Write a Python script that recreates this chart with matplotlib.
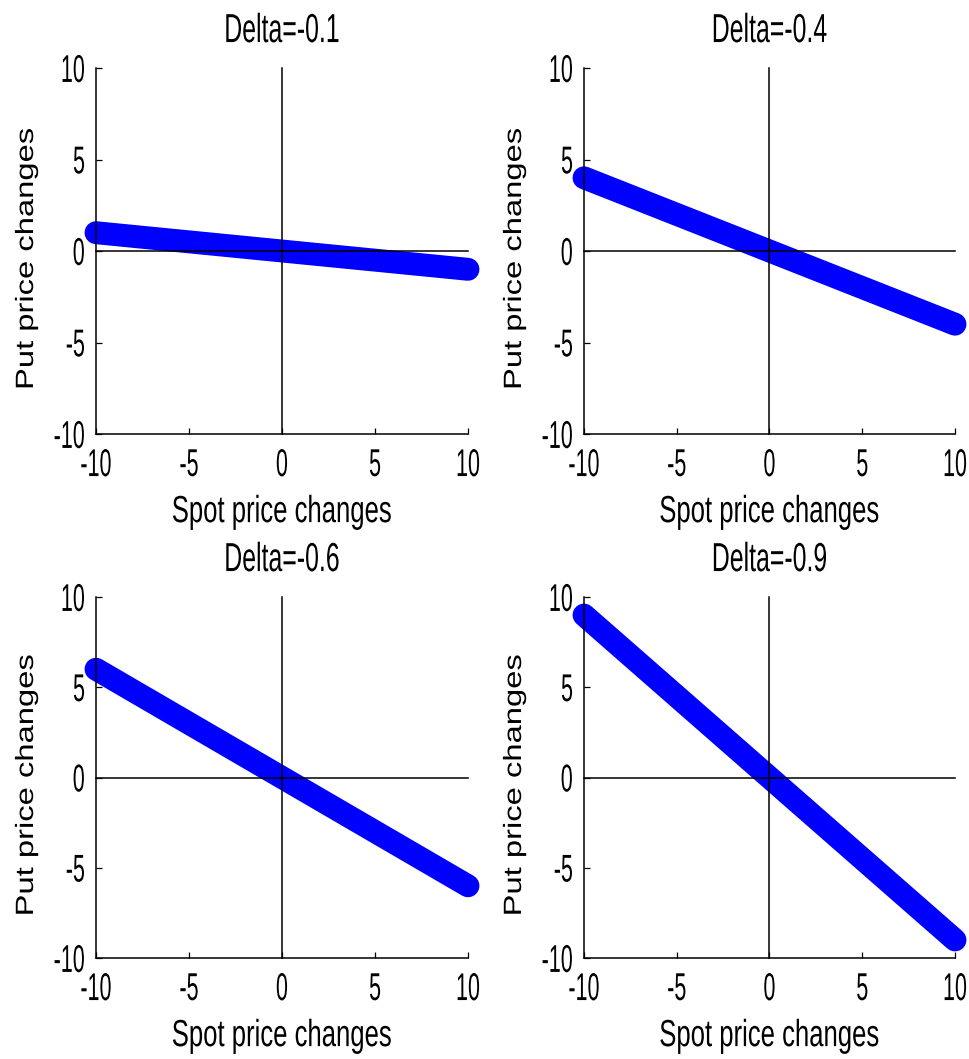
import matplotlib
matplotlib.use("Agg")
import matplotlib.pyplot as plt
import numpy as np
from matplotlib.patheffects import AbstractPathEffect
from matplotlib.transforms import Affine2D

# Option deltas shown in each panel and the range of spot price changes
deltas = [-0.1, -0.4, -0.6, -0.9]
titles = ["Delta=-0.1", "Delta=-0.4", "Delta=-0.6", "Delta=-0.9"]
spot = np.array([-10.0, 10.0])
ticks = [-10, -5, 0, 5, 10]
tick_labels = ["-10", "-5", "0", "5", "10"]
xlabel = "Spot price changes"
ylabel = "Put price changes"


class Stretch(AbstractPathEffect):
    """Scale glyph outlines about their own centre (tall, narrow lettering)."""

    def __init__(self, sx=1.0, sy=1.0):
        super().__init__()
        self.sx, self.sy = sx, sy

    def draw_path(self, renderer, gc, tpath, affine, rgbFace=None):
        v = tpath.vertices
        if len(v):
            cx = 0.5 * (v[:, 0].min() + v[:, 0].max())
            cy = 0.5 * (v[:, 1].min() + v[:, 1].max())
        else:
            cx = cy = 0.0
        pre = (Affine2D().translate(-cx, -cy).scale(self.sx, self.sy)
               .translate(cx, cy))
        renderer.draw_path(gc, tpath, pre + affine, rgbFace)


FONT = ["Liberation Sans", "DejaVu Sans"]

W, H = 970, 1059
fig = plt.figure(figsize=(W / 100, H / 100), dpi=100)
fig.patch.set_facecolor("white")

# axes boxes in pixels: left, top, right, bottom
boxes = [(96, 68, 468, 434), (584, 68, 955, 434),
         (96, 597, 468, 958), (584, 597, 955, 958)]

for d, title, (l, t, r, b) in zip(deltas, titles, boxes):
    ax = fig.add_axes([l / W, 1 - b / H, (r - l) / W, (b - t) / H])
    hpx = b - t
    put = d * spot
    ax.plot(spot, put, color="#0000ff", lw=16.5, solid_capstyle="round",
            clip_on=False, zorder=2)
    # reference axes through the origin
    ax.plot([0, 0], [-10, 10], color="black", lw=1.1, zorder=3, clip_on=False)
    ax.plot([-10, 10], [0, 0], color="black", lw=1.1, zorder=3, clip_on=False)

    ax.set_xlim(-10, 10)
    ax.set_ylim(-10, 10)
    ax.set_xticks(ticks)
    ax.set_yticks(ticks)
    ax.set_xticklabels(tick_labels, family=FONT, fontsize=15.5)
    ax.set_yticklabels(tick_labels, family=FONT, fontsize=15.5)
    ax.tick_params(axis="x", direction="in", length=4, width=0.9, pad=14.5)
    ax.tick_params(axis="y", direction="in", length=4, width=0.9, pad=8)
    for lab in ax.get_xticklabels() + ax.get_yticklabels():
        lab.set_path_effects([Stretch(1.0, 1.8)])
    for side in ("top", "right"):
        ax.spines[side].set_visible(False)
    for side in ("left", "bottom"):
        ax.spines[side].set_linewidth(1.1)

    ttl = ax.set_title(title, family=FONT, fontsize=17.9, pad=22.7)
    ttl.set_path_effects([Stretch(1.0, 1.63)])

    xl = ax.set_xlabel(xlabel, family=FONT, fontsize=18.5, va="baseline")
    ax.xaxis.set_label_coords(0.5, -85 / hpx)
    xl.set_path_effects([Stretch(1.0, 1.47)])

    yl = ax.set_ylabel(ylabel, family=FONT, fontsize=18)
    ax.yaxis.set_label_coords(-58 / (r - l), 0.478)
    yl.set_path_effects([Stretch(1.31, 1.0)])
    ax.set_facecolor("white")

fig.savefig("out.png", dpi=100, facecolor="white")
